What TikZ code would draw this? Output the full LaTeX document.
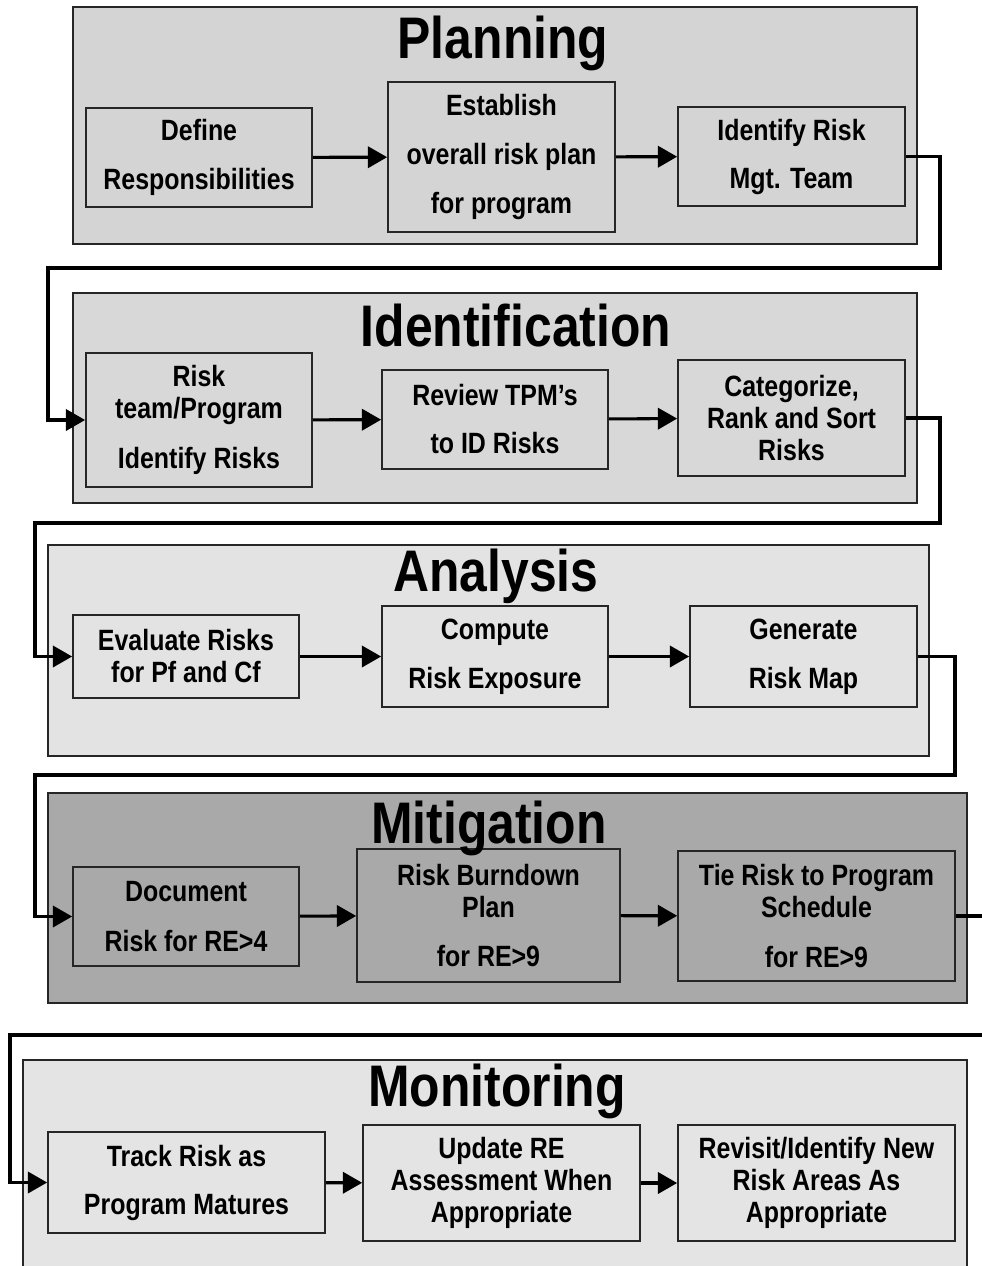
\documentclass[tikz,border=0pt]{standalone}
\usepackage{fontspec}
\setmainfont{Liberation Sans}[FakeStretch=0.85]
\usetikzlibrary{fit,arrows.meta}

\definecolor{planfill}{HTML}{D4D4D4}
\definecolor{identfill}{HTML}{D8D8D8}
\definecolor{anafill}{HTML}{E3E3E3}
\definecolor{mitfill}{HTML}{A9A9A9}
\definecolor{monfill}{HTML}{E4E4E4}

\tikzset{
  panel/.style={draw=black!85, line width=1.5pt, inner sep=0pt},
  stepbox/.style={draw=black!85, line width=1.3pt, inner sep=0pt, align=center,
    font=\bfseries\fontsize{22}{24}\selectfont},
  phasetitle/.style={anchor=base, inner sep=0pt, font=\bfseries\fontsize{44}{48}\selectfont},
  flow/.style={line width=2.3pt, -{Triangle[length=14.5pt,width=16pt]}},
  sz/.style 2 args={minimum width=#1, minimum height=#2},
}

\begin{document}
\begin{tikzpicture}[x=0.75pt,y=-0.75pt]
\useasboundingbox (0,0) rectangle (981,1266);

% ---- Planning
\node[panel, fill=planfill, fit={(73,7)(917,244)}] (pplan) {};
\node[stepbox, sz={169.5pt}{74.25pt}] (def) at (199,157.5) {Define\\[13pt]Responsibilities};
\node[stepbox, sz={170.25pt}{112.5pt}] (est) at (501.5,157) {Establish\\[13pt]overall risk plan\\[13pt]for program};
\node[stepbox, sz={170.25pt}{74.25pt}] (itm) at (791.5,156.5) {Identify Risk\\[12pt]Mgt. Team};
\node[phasetitle] (tplan) at (503,59) {Planning};

% ---- Identification
\node[panel, fill=identfill, fit={(73,293)(917,503)}] (pident) {};
\node[stepbox, sz={169.5pt}{100.5pt}] (rtp) at (199,420) {Risk\\team/Program\\[13pt]Identify Risks};
\node[stepbox, sz={169.5pt}{74.25pt}] (tpm) at (495,419.5) {Review TPM’s\\[12pt]to ID Risks};
\node[stepbox, sz={170.25pt}{87pt}] (crs) at (791.5,418) {Categorize,\\Rank and Sort\\Risks};
\node[phasetitle] (tident) at (516,346) {Identification};

% ---- Analysis
\node[panel, fill=anafill, fit={(48,545)(929,756)}] (pana) {};
\node[stepbox, sz={169.5pt}{62.25pt}] (evr) at (186,656.5) {Evaluate Risks\\for Pf and Cf};
\node[stepbox, sz={169.5pt}{75.75pt}] (cre) at (495,656.5) {Compute\\[13pt]Risk Exposure};
\node[stepbox, sz={170.25pt}{75.75pt}] (grm) at (803.5,656.5) {Generate\\[13pt]Risk Map};
\node[phasetitle] (tana) at (496,591) {Analysis};

% ---- Mitigation
\node[panel, fill=mitfill, fit={(48,793)(967,1003)}] (pmit) {};
\node[stepbox, sz={169.5pt}{74.25pt}] (doc) at (186,916.5) {Document\\[13pt]Risk for RE>4};
\node[stepbox, sz={197.25pt}{99.75pt}] (rbp) at (488.5,915.5) {Risk Burndown\\Plan\\[13pt]for RE>9};
\node[stepbox, sz={207.75pt}{97.5pt}] (trs) at (816.5,916) {Tie Risk to Program\\Schedule\\[13pt]for RE>9};
\node[phasetitle] (tmit) at (489,843) {Mitigation};

% ---- Monitoring
\node[panel, fill=monfill, fit={(23,1060)(967,1300)}] (pmon) {};
\node[stepbox, sz={207.75pt}{75.75pt}] (trk) at (186.5,1182.5) {Track Risk as\\[12pt]Program Matures};
\node[stepbox, sz={207.75pt}{87pt}] (upd) at (501.5,1183) {Update RE\\Assessment When\\Appropriate};
\node[stepbox, sz={207.75pt}{87pt}] (rev) at (816.5,1183) {Revisit/Identify New\\Risk Areas As\\Appropriate};
\node[phasetitle] (tmon) at (497,1106) {Monitoring};

% ---- flow within each phase
\draw[flow] (def) -- (est);
\draw[flow] (est) -- (itm);
\draw[flow] (rtp) -- (tpm);
\draw[flow] (tpm) -- (crs);
\draw[flow] (evr) -- (cre);
\draw[flow] (cre) -- (grm);
\draw[flow] (doc) -- (rbp);
\draw[flow] (rbp) -- (trs);
\draw[flow] (trk) -- (upd);
\draw[flow] (upd) -- (rev);

% ---- links from one phase to the next
\coordinate (a1) at (940,268);  \coordinate (b1) at (48,268);
\coordinate (a2) at (940,523);  \coordinate (b2) at (35,523);
\coordinate (a3) at (955,775);  \coordinate (b3) at (35,775);
\coordinate (a4) at (992,1035); \coordinate (b4) at (10,1035);
\draw[flow] (itm.east) -| (a1) -- (b1) |- (rtp.west);
\draw[flow] (crs.east) -| (a2) -- (b2) |- (evr.west);
\draw[flow] (grm.east) -| (a3) -- (b3) |- (doc.west);
\draw[flow] (trs.east) -| (a4) -- (b4) |- (trk.west);
\end{tikzpicture}
\end{document}
